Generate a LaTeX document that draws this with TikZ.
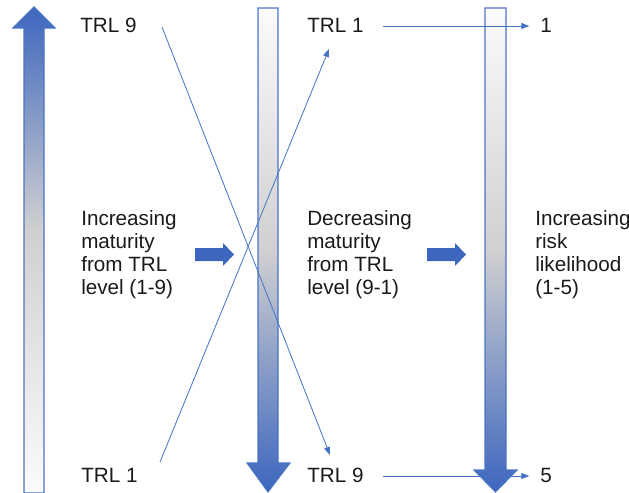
\documentclass[tikz,border=0pt]{standalone}
\usepackage{fontspec}
\setmainfont{Liberation Sans}
\usetikzlibrary{arrows.meta}
\definecolor{fatblue}{HTML}{3D66BE}
\definecolor{edgeblue}{HTML}{4A74C4}
\definecolor{lineblue}{HTML}{4472C4}
\definecolor{midgray}{HTML}{D0D0D0}
\definecolor{paleend}{HTML}{FBFBFB}
\definecolor{txt}{HTML}{1A1A1A}
\pgfdeclareverticalshading{upshade}{100bp}{color(0bp)=(paleend); color(25bp)=(paleend); color(52bp)=(midgray); color(75bp)=(fatblue); color(100bp)=(fatblue)}
\pgfdeclareverticalshading{downshade}{100bp}{color(0bp)=(fatblue); color(25bp)=(fatblue); color(50bp)=(midgray); color(75bp)=(paleend); color(100bp)=(paleend)}
\tikzset{
  lbl/.style={inner sep=0pt, anchor=base west, text=txt, font=\fontsize{15.5}{17.25}\selectfont},
  blk/.style={inner sep=0pt, anchor=north west, align=left, text=txt, font=\fontsize{15.5}{17.25}\selectfont},
  conn/.style={draw=lineblue, line width=0.6pt, -{Triangle[length=6pt,width=4.5pt]}},
  upgrad/.style={draw=edgeblue, line width=0.8pt, shading=upshade},
  downgrad/.style={draw=edgeblue, line width=0.8pt, shading=downshade},
  fatarrow/.style={fill=fatblue, draw=none}
}
\begin{document}
\begin{tikzpicture}[x=0.75pt, y=-0.75pt]
\useasboundingbox (0,0) rectangle (629,493);
% big vertical arrows
\path[upgrad] (24,493) -- (24,28) -- (13,28) -- (34,7) -- (55,28) -- (44,28) -- (44,493) -- cycle;
\path[downgrad] (258,8) -- (278,8) -- (278,463) -- (290,463) -- (268,492) -- (247,463) -- (258,463) -- cycle;
\path[downgrad] (485,8) -- (506,8) -- (506,470) -- (517,470) -- (495.5,492) -- (474,470) -- (485,470) -- cycle;
% fat horizontal arrows
\path[fatarrow] (195,248) -- (223,248) -- (223,243) -- (234,254.5) -- (223,266) -- (223,261) -- (195,261) -- cycle;
\path[fatarrow] (427,248) -- (455,248) -- (455,243) -- (466,254.5) -- (455,266) -- (455,261) -- (427,261) -- cycle;
% labels
\node[lbl] (t9l) at (80,32) {TRL 9};
\node[lbl] (t1l) at (81,482) {TRL 1};
\node[lbl] (t1m) at (307,32) {TRL 1};
\node[lbl] (t9m) at (307,482) {TRL 9};
\node[lbl] (r1) at (540,32) {1};
\node[lbl] (r5) at (540,482) {5};
\node[blk] (bl) at (81,210) {Increasing\\maturity\\from TRL\\level (1-9)};
\node[blk] (bm) at (307,210) {Decreasing\\maturity\\from TRL\\level (9-1)};
\node[blk] (br) at (535,210) {Increasing\\risk\\likelihood\\(1-5)};
% connector end points
\coordinate (a1) at (162,27);
\coordinate (a2) at (330,455);
\coordinate (b1) at (160,462);
\coordinate (b2) at (329,49);
\coordinate (c1) at (383,26);
\coordinate (d1) at (383,476);
\draw[conn] (a1) -- (a2);
\draw[conn] (b1) -- (b2);
\draw[conn, shorten >=8pt] (c1) -- (c1 -| r1.west);
\draw[conn, shorten >=8pt] (d1) -- (d1 -| r5.west);
\end{tikzpicture}
\end{document}
